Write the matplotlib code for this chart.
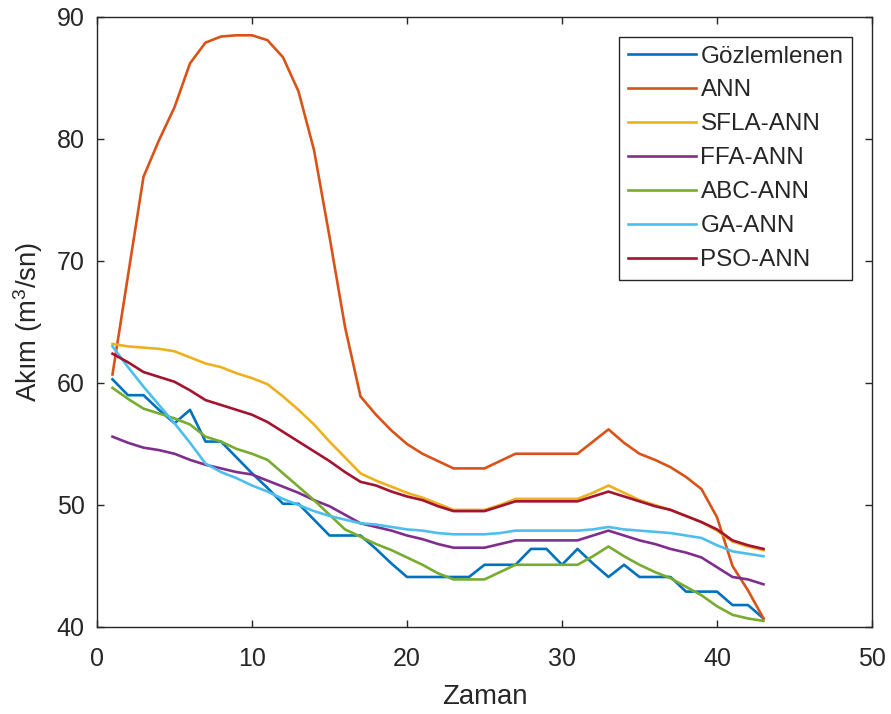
import numpy as np
import matplotlib
matplotlib.use("Agg")
import matplotlib.pyplot as plt

plt.rcParams["font.family"] = ["Liberation Sans", "DejaVu Sans"]
plt.rcParams["mathtext.fontset"] = "custom"
plt.rcParams["mathtext.rm"] = "Liberation Sans"
plt.rcParams["mathtext.it"] = "Liberation Sans:italic"

zaman = np.arange(1, 44)

gozlemlenen = [60.3, 59.0, 59.0, 57.8, 56.7, 57.8, 55.2, 55.2, 53.9, 52.6,
               51.4, 50.1, 50.1, 48.8, 47.5, 47.5, 47.5, 46.4, 45.2, 44.1,
               44.1, 44.1, 44.1, 44.1, 45.1, 45.1, 45.1, 46.4, 46.4, 45.1,
               46.4, 45.2, 44.1, 45.1, 44.1, 44.1, 44.1, 42.9, 42.9, 42.9,
               41.8, 41.8, 40.7]
ann = [60.7, 68.8, 76.9, 79.9, 82.6, 86.2, 87.9, 88.4, 88.5, 88.5,
       88.1, 86.7, 83.9, 79.1, 72.0, 64.6, 58.9, 57.4, 56.1, 55.0,
       54.2, 53.6, 53.0, 53.0, 53.0, 53.6, 54.2, 54.2, 54.2, 54.2,
       54.2, 55.2, 56.2, 55.1, 54.2, 53.7, 53.1, 52.3, 51.3, 49.0,
       45.0, 43.0, 40.7]
sfla_ann = [63.2, 63.0, 62.9, 62.8, 62.6, 62.1, 61.6, 61.3, 60.8, 60.4,
            59.9, 58.9, 57.8, 56.6, 55.2, 53.9, 52.6, 52.0, 51.5, 51.0,
            50.6, 50.1, 49.6, 49.6, 49.6, 50.0, 50.5, 50.5, 50.5, 50.5,
            50.5, 51.0, 51.6, 51.0, 50.4, 50.0, 49.6, 49.1, 48.6, 47.9,
            47.0, 46.6, 46.3]
ffa_ann = [55.6, 55.1, 54.7, 54.5, 54.2, 53.7, 53.3, 53.0, 52.7, 52.5,
           52.0, 51.5, 51.0, 50.4, 49.9, 49.2, 48.5, 48.2, 47.9, 47.5,
           47.2, 46.8, 46.5, 46.5, 46.5, 46.8, 47.1, 47.1, 47.1, 47.1,
           47.1, 47.5, 47.9, 47.5, 47.1, 46.8, 46.4, 46.1, 45.7, 44.9,
           44.1, 43.9, 43.5]
abc_ann = [59.6, 58.7, 57.9, 57.5, 57.1, 56.6, 55.6, 55.2, 54.6, 54.2,
           53.7, 52.6, 51.5, 50.4, 49.2, 48.0, 47.4, 46.8, 46.3, 45.7,
           45.1, 44.4, 43.9, 43.9, 43.9, 44.5, 45.1, 45.1, 45.1, 45.1,
           45.1, 45.8, 46.6, 45.8, 45.1, 44.5, 44.0, 43.3, 42.6, 41.7,
           41.0, 40.7, 40.5]
ga_ann = [63.0, 61.3, 59.7, 58.2, 56.7, 55.1, 53.4, 52.7, 52.2, 51.6,
          51.1, 50.5, 50.0, 49.5, 49.1, 48.8, 48.5, 48.4, 48.2, 48.0,
          47.9, 47.7, 47.6, 47.6, 47.6, 47.7, 47.9, 47.9, 47.9, 47.9,
          47.9, 48.0, 48.2, 48.0, 47.9, 47.8, 47.7, 47.5, 47.3, 46.7,
          46.2, 46.0, 45.8]
pso_ann = [62.4, 61.7, 60.9, 60.5, 60.1, 59.4, 58.6, 58.2, 57.8, 57.4,
           56.8, 56.0, 55.2, 54.4, 53.6, 52.7, 51.9, 51.6, 51.1, 50.7,
           50.4, 49.9, 49.5, 49.5, 49.5, 49.9, 50.3, 50.3, 50.3, 50.3,
           50.3, 50.7, 51.1, 50.7, 50.3, 49.9, 49.6, 49.1, 48.6, 48.0,
           47.1, 46.7, 46.4]

labels = ["Gözlemlenen", "ANN", "SFLA-ANN", "FFA-ANN", "ABC-ANN", "GA-ANN", "PSO-ANN"]
series = [gozlemlenen, ann, sfla_ann, ffa_ann, abc_ann, ga_ann, pso_ann]
colors = ["#0072BD", "#D95319", "#EDB120", "#7E2F8E", "#77AC30", "#4DBEEE", "#A2142F"]

fig = plt.figure(figsize=(8.91, 7.14), dpi=100)
ax = fig.add_axes([97 / 891, 1 - 627 / 714, (872 - 97) / 891, (627 - 17) / 714])

for y, lab, c in zip(series, labels, colors):
    ax.plot(zaman, y, color=c, lw=1.9, label=lab)

ax.set_xlim(0, 50)
ax.set_ylim(40, 90)
ax.set_xticks([0, 10, 20, 30, 40, 50])
ax.set_yticks([40, 50, 60, 70, 80, 90])

axcol = "#262626"
for s in ax.spines.values():
    s.set_color(axcol)
    s.set_linewidth(1.0)
ax.tick_params(direction="in", length=5, width=1, color=axcol, labelcolor=axcol,
               labelsize=18, top=True, right=True)
ax.tick_params(axis="x", pad=14.5)
ax.tick_params(axis="y", pad=9)

ax.set_xlabel("Zaman", fontsize=19.8, color=axcol, labelpad=9)
ax.set_ylabel(r"Akım (m$^{3}$/sn)", fontsize=19.8, color=axcol, labelpad=8)

leg = ax.legend(loc="upper right", bbox_to_anchor=(852 / 891, 1 - 37 / 714),
                bbox_transform=fig.transFigure, borderaxespad=0, fontsize=17.5,
                handlelength=2.8, handletextpad=0.2, labelspacing=0.49,
                borderpad=0.35, fancybox=False, framealpha=1)
leg.get_frame().set_edgecolor(axcol)
leg.get_frame().set_linewidth(1.0)
for t in leg.get_texts():
    t.set_color(axcol)

fig.savefig("out.png", dpi=100)
